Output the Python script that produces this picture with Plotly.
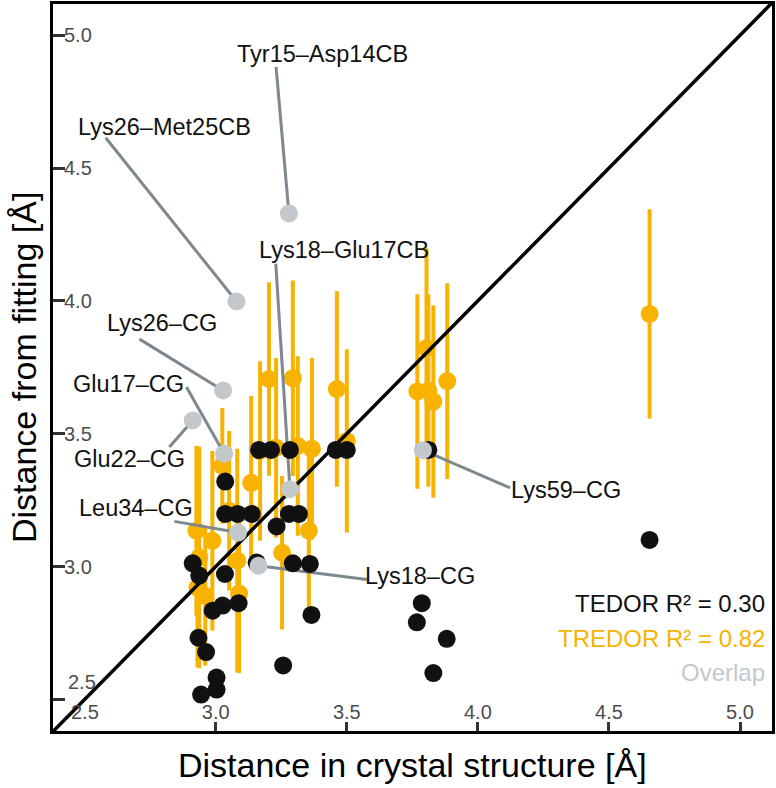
import plotly.graph_objects as go

# ---------------- data ----------------
# TEDOR fits (black)
tedor_x = [3.036, 3.165, 3.211, 3.283, 3.458, 3.500, 3.811, 3.036, 3.083, 3.137,
           3.279, 3.317, 3.232, 2.912, 2.937, 3.035, 3.156, 3.294, 3.359, 2.988,
           3.026, 3.087, 2.934, 2.963, 2.944, 3.003, 3.003, 3.257, 3.365, 3.786,
           3.767, 3.881, 3.830, 4.655]
tedor_y = [3.320, 3.439, 3.439, 3.439, 3.439, 3.439, 3.439, 3.198, 3.198, 3.198,
           3.198, 3.198, 3.151, 3.012, 2.966, 2.972, 3.015, 3.012, 3.010, 2.834,
           2.853, 2.862, 2.732, 2.678, 2.518, 2.582, 2.537, 2.628, 2.818, 2.862,
           2.790, 2.728, 2.599, 3.100]

# TREDOR fits (orange) with uncertainty
tredor_x = [3.203, 3.294, 3.462, 3.169, 3.230, 3.313, 3.367, 3.500, 3.135, 3.025,
            2.926, 2.937, 2.930, 2.987, 3.089, 3.082, 3.355, 3.253, 3.051, 2.960,
            3.883, 3.830, 3.769, 3.811, 3.804, 4.655]
tredor_y = [3.706, 3.709, 3.668, 3.435, 3.447, 3.454, 3.443, 3.473, 3.315, 3.379,
            3.135, 3.034, 2.921, 3.097, 2.899, 3.022, 3.135, 3.052, 3.210, 2.890,
            3.698, 3.621, 3.659, 3.662, 3.822, 3.951]
tredor_err = [0.364, 0.368, 0.368, 0.338, 0.338, 0.338, 0.342, 0.345, 0.327, 0.218,
              0.319, 0.417, 0.300, 0.338, 0.300, 0.421, 0.300, 0.289, 0.300, 0.263,
              0.368, 0.362, 0.366, 0.362, 0.376, 0.394]

# Overlap points (grey) with their labels
overlap_labels = ["Tyr15\u2013Asp14CB", "Lys26\u2013Met25CB", "Lys26\u2013CG", "Glu17\u2013CG",
                  "Glu22\u2013CG", "Leu34\u2013CG", "Lys18\u2013Glu17CB", "Lys18\u2013CG", "Lys59\u2013CG"]
overlap_x = [3.279, 3.079, 3.028, 3.032, 2.912, 3.085, 3.283, 3.163, 3.790]
overlap_y = [4.329, 3.998, 3.663, 3.425, 3.550, 3.128, 3.291, 3.003, 3.438]

# label placement (repelled positions)
label_text_x = [3.408, 2.804, 2.795, 2.668, 2.670, 2.694, 3.488, 3.780, 4.336]
label_text_y = [4.930, 4.654, 3.917, 3.686, 3.406, 3.222, 4.193, 2.966, 3.288]
label_seg_x = [3.230, 2.580, 2.709, 2.888, 2.823, 2.842, 3.229, 3.576, 4.123]
label_seg_y = [4.881, 4.614, 3.856, 3.676, 3.450, 3.170, 4.140, 2.951, 3.296]

tick_vals = [2.5, 3.0, 3.5, 4.0, 4.5, 5.0]
tick_text = ["2.5", "3.0", "3.5", "4.0", "4.5", "5.0"]

legend_text = ["TEDOR R\u00b2 = 0.30", "TREDOR R\u00b2 = 0.82", "Overlap"]

x_title = "Distance in crystal structure [\u00c5]"
y_title = "Distance from fitting [\u00c5]"

# ---------------- style ----------------
FONT = "Liberation Sans, Arial, Helvetica, sans-serif"
ORANGE = "#F7B300"
BLACK = "#111111"
GREY = "#C2C8CC"
SEG = "#7D888F"
TICKC = "#4D4D4D"
TICKSIZE = 20

XR = [2.379, 5.122]
YR = [2.381, 5.1175]

fig = go.Figure()

# TREDOR with error bars
fig.add_trace(go.Scatter(
    x=tredor_x, y=tredor_y, mode="markers",
    marker=dict(size=18, color=ORANGE, line=dict(width=0)),
    error_y=dict(type="data", array=tredor_err, visible=True, thickness=4,
                 width=0, color=ORANGE),
    showlegend=False, hoverinfo="skip"))

# identity line
fig.add_trace(go.Scatter(
    x=[XR[0] - 0.2, XR[1] + 0.2], y=[XR[0] - 0.2, XR[1] + 0.2], mode="lines",
    line=dict(color="black", width=3.5), showlegend=False, hoverinfo="skip"))

# label connector segments
seg_x, seg_y = [], []
for px, py, lx, ly in zip(overlap_x, overlap_y, label_seg_x, label_seg_y):
    seg_x += [px, lx, None]
    seg_y += [py, ly, None]
fig.add_trace(go.Scatter(
    x=seg_x, y=seg_y, mode="lines", line=dict(color=SEG, width=3),
    showlegend=False, hoverinfo="skip"))

# TEDOR
fig.add_trace(go.Scatter(
    x=tedor_x, y=tedor_y, mode="markers",
    marker=dict(size=18, color=BLACK, line=dict(width=0)),
    showlegend=False, hoverinfo="skip"))

# Overlap
fig.add_trace(go.Scatter(
    x=overlap_x, y=overlap_y, mode="markers",
    marker=dict(size=18, color=GREY, line=dict(width=0)),
    showlegend=False, hoverinfo="skip"))

annotations = []
for t, lx, ly in zip(overlap_labels, label_text_x, label_text_y):
    annotations.append(dict(x=lx, y=ly, xref="x", yref="y", text=t, showarrow=False,
                            font=dict(family=FONT, size=23.5, color="#111111"),
                            xanchor="center", yanchor="middle"))

leg_cols = [BLACK, ORANGE, GREY]
leg_y = [2.861, 2.730, 2.600]
for t, c, yy in zip(legend_text, leg_cols, leg_y):
    annotations.append(dict(x=5.102, y=yy, xref="x", yref="y", text=t, showarrow=False,
                            font=dict(family=FONT, size=24, color=c),
                            xanchor="right", yanchor="middle"))

# 2.5 tick labels (placed by hand, as in the original)
annotations.append(dict(x=2.428, y=2.564, xref="x", yref="y", text=tick_text[0],
                        showarrow=False, font=dict(family=FONT, size=TICKSIZE, color=TICKC),
                        xanchor="left", yanchor="middle"))
annotations.append(dict(x=tick_vals[0], y=2.452, xref="x", yref="y", text=tick_text[0],
                        showarrow=False, font=dict(family=FONT, size=TICKSIZE, color=TICKC),
                        xanchor="center", yanchor="middle"))

# axis titles
annotations.append(dict(x=0.5, y=-0.047, xref="paper", yref="paper", text=x_title,
                        showarrow=False, font=dict(family=FONT, size=34, color="black"),
                        xanchor="center", yanchor="middle"))
annotations.append(dict(x=-0.041, y=0.5, xref="paper", yref="paper", text=y_title,
                        showarrow=False, textangle=-90,
                        font=dict(family=FONT, size=34, color="black"),
                        xanchor="center", yanchor="middle"))

axis_common = dict(showgrid=False, zeroline=False, showline=True, mirror=True,
                   linecolor="black", linewidth=3, ticks="inside", tickwidth=3,
                   tickcolor="#333333", ticklabelposition="inside",
                   tickfont=dict(family=FONT, size=TICKSIZE, color=TICKC),
                   tickvals=tick_vals)

fig.update_xaxes(range=XR, ticklen=9, ticktext=[""] + tick_text[1:], **axis_common)
fig.update_yaxes(range=YR, ticklen=12, ticktext=[""] + tick_text[1:], **axis_common)

fig.update_layout(
    width=776, height=788,
    margin=dict(l=53, r=1, t=2, b=57),
    plot_bgcolor="white", paper_bgcolor="white",
    annotations=annotations,
    font=dict(family=FONT),
    showlegend=False,
)

fig.write_html("out.html", config={"displayModeBar": False},
               post_script="document.body.style.margin='0px';document.body.style.overflow='hidden';")
